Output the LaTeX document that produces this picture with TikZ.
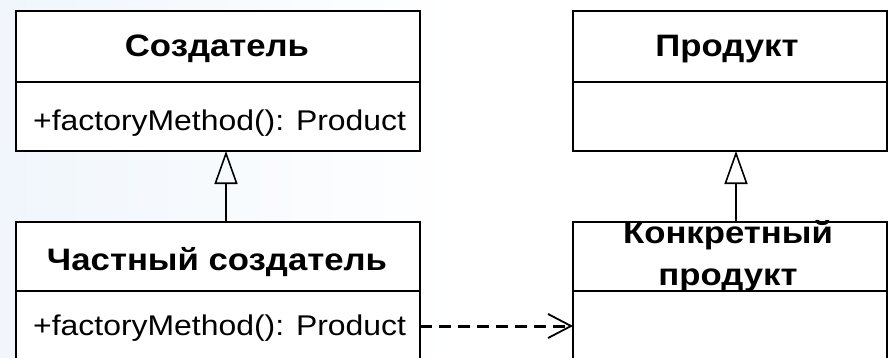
\documentclass[tikz,border=0pt]{standalone}
\usepackage{fontspec}
\setmainfont[FakeStretch=1.12]{Liberation Sans}
\usetikzlibrary{arrows.meta}
\definecolor{bgl}{RGB}{240,246,252}
\begin{document}
\begin{tikzpicture}[x=1pt,y=1pt,
  comp/.style={draw=black,line width=1.6pt,fill=white,minimum width=404pt,inner sep=0pt,outer sep=0pt},
  ttl/.style={font=\fontsize{31}{37}\selectfont\bfseries,inner sep=0pt,anchor=base},
  mth/.style={font=\fontsize{28.5}{34}\selectfont,inner sep=0pt,anchor=base west},
  gen/.style={line width=1.6pt,-{Triangle[open,length=33pt,width=23pt,line width=1.6pt]}},
  dep/.style={line width=3pt,dash pattern=on 12pt off 7pt,-{Straight Barb[length=23pt,width=24pt,line width=1.8pt]}}]
\useasboundingbox (0,0) rectangle (889,-357);
\clip (0,0) rectangle (889,-357);
\shade[left color=bgl,right color=white] (0,0) rectangle (460,-357);
\fill[white] (460,0) rectangle (889,-357);
% Creator
\node[comp,minimum height=71pt] (c) at (218,-46.5) {};
\node[comp,minimum height=69pt] (cm) at (218,-116.5) {};
% Concrete creator
\node[comp,minimum height=69pt] (k) at (218,-256.5) {};
\node[comp,minimum height=90pt] (km) at (218,-336) {};
% Product
\node[comp,minimum width=314pt,minimum height=71pt] (p) at (730,-46.5) {};
\node[comp,minimum width=314pt,minimum height=69pt] (pm) at (730,-116.5) {};
% Concrete product
\node[comp,minimum width=314pt,minimum height=69pt] (q) at (730,-256.5) {};
\node[comp,minimum width=314pt,minimum height=90pt] (qm) at (730,-336) {};
% texts
\node[ttl] (ct) at (217,-56) {Создатель};
\node[mth] (cmt) at (33,-130) {+factoryMethod(): Product};
\node[ttl] (kt) at (217,-270) {Частный создатель};
\node[mth] (kmt) at (33,-335) {+factoryMethod(): Product};
\node[ttl] (pt) at (727,-56) {Продукт};
\node[ttl] (qt1) at (728,-243) {Конкретный};
\node[ttl] (qt2) at (728,-285) {продукт};
% connectors
\coordinate (g1) at (226,0);
\coordinate (g2) at (736,0);
\coordinate (dy) at (0,-326);
\draw[gen] (k.north -| g1) -- (cm.south -| g1);
\draw[gen] (q.north -| g2) -- (pm.south -| g2);
\draw[dep] (km.east |- dy) -- (qm.west |- dy);
\end{tikzpicture}
\end{document}
